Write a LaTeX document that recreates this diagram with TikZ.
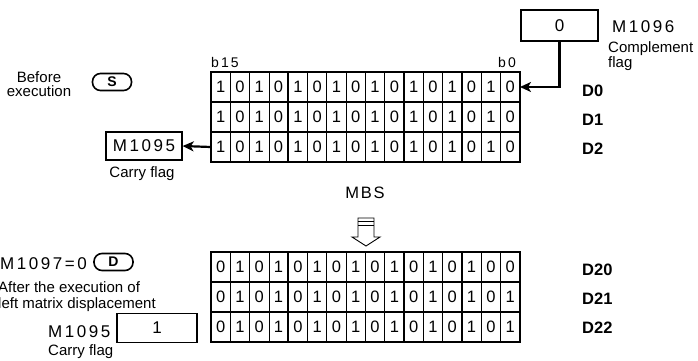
\documentclass[tikz,border=0pt]{standalone}
\usepackage{fontspec}
\setmainfont{Liberation Sans}
\newfontfamily\spc{Liberation Sans}[LetterSpace=15]
\newfontfamily\spcw{Liberation Sans}[LetterSpace=10]
\usetikzlibrary{arrows.meta}
\newcommand\mgrow[3]{%
  \foreach \d [count=\i from 0] in {#3} {\node[cell] (#1-\i) at ({220.65+19.3*\i},{#2+15}) {\d};}}
\newcommand\mglines[1]{%
  \foreach \k in {1,...,15} \draw[line width=0.8pt] ({211+19.3*\k},#1) -- ++(0,90);
  \foreach \k in {2,4,10,13} \draw[line width=1.5pt] ({211+19.3*\k},#1) -- ++(0,90);
  \draw[line width=1.7pt] (211,#1) rectangle (519.8,#1+90);}
\begin{document}
\begin{tikzpicture}[x=1pt,y=-1pt,
  txt/.style={inner sep=0pt, font=\fontsize{15}{15}\selectfont},
  reg/.style={inner sep=0pt, font=\spc\fontsize{17}{17}\selectfont},
  dlab/.style={inner sep=0pt, font=\bfseries\fontsize{16.5}{16.5}\selectfont},
  cell/.style={inner sep=0pt, minimum width=19.3pt, minimum height=30pt, font=\fontsize{16.5}{16.5}\selectfont},
  box/.style={draw, line width=1.3pt, inner sep=0pt, font=\spc\fontsize{17}{17}\selectfont},
  pill/.style={draw, line width=1.6pt, rounded corners=8pt, minimum width=39pt, minimum height=17pt, inner sep=0pt, font=\bfseries\fontsize{14}{14}\selectfont},
  arr/.style={line width=2.2pt, -{Stealth[length=11pt,width=10pt,inset=3pt]}},
  ]
\useasboundingbox (0,0) rectangle (698,361);

% ---------- before execution ----------
\node[txt, anchor=base] (bef1) at (39,82) {Before};
\node[txt, anchor=base] (bef2) at (39,96) {execution};
\node[pill] (spill) at (112,82) {S};
\node[inner sep=0pt, anchor=base west, font=\spc\fontsize{14}{14}\selectfont] (b15) at (211,67) {b15};
\node[inner sep=0pt, anchor=base east, font=\spc\fontsize{14}{14}\selectfont] (b0) at (516,67) {b0};

% top grid
\mgrow{t0}{72}{1,0,1,0,1,0,1,0,1,0,1,0,1,0,1,0}
\mgrow{t1}{102}{1,0,1,0,1,0,1,0,1,0,1,0,1,0,1,0}
\mgrow{t2}{132}{1,0,1,0,1,0,1,0,1,0,1,0,1,0,1,0}
\mglines{72}
\draw[line width=1.6pt] (211,102) -- (519.8,102);
\draw[line width=1.6pt] (211,132) -- (519.8,132);

\node[dlab, anchor=base west] (d0) at (582,96.5) {D0};
\node[dlab, anchor=base west] (d1) at (582,125) {D1};
\node[dlab, anchor=base west] (d2) at (582,154.5) {D2};

% M1096
\node[box, minimum width=77pt, minimum height=31pt] (m1096box) at (559.5,25.5) {0};
\node[reg, anchor=base west] (m1096) at (612,33) {M1096};
\node[txt, anchor=base west] (compl) at (608,52.5) {Complement};
\node[txt, anchor=base west] (flag) at (608,67) {flag};
\draw[arr] (m1096box.south) |- (t0-15.east);

% M1095 top
\node[box, minimum width=76pt, minimum height=28pt] (m1095box) at (144,146) {M1095};
\node[txt, anchor=base] (carry1) at (142,177.5) {Carry flag};
\draw[arr] (t2-0.west) -- (m1095box.east);

% MBS and hollow arrow
\node[inner sep=0pt, anchor=base, font=\spcw\fontsize{16.5}{16.5}\selectfont] (mbs) at (365,198) {MBS};
\draw[line width=0.9pt] (358,218) -- (358,237) -- (352,237) -- (366,246) -- (380,237) -- (374,237) -- (374,218) -- cycle;
\draw[line width=0.9pt] (358,221.5) -- (374,221.5);
\draw[line width=0.9pt] (358,225) -- (374,225);

% ---------- after execution ----------
\node[reg, anchor=base west] (m1097) at (0,269) {M1097=0};
\node[pill] (dpill) at (113.5,262) {D};
\node[txt, anchor=base west] (after1) at (-2,292) {After the execution of};
\node[txt, anchor=base west] (after2) at (-2,308) {left matrix displacement};
\node[reg, anchor=base west] (m1095b) at (48,337) {M1095};
\node[box, minimum width=80pt, minimum height=29pt] (onebox) at (157,328) {1};
\node[txt, anchor=base west] (carry2) at (48,355) {Carry flag};

% bottom grid
\mgrow{u0}{252}{0,1,0,1,0,1,0,1,0,1,0,1,0,1,0,0}
\mgrow{u1}{282}{0,1,0,1,0,1,0,1,0,1,0,1,0,1,0,1}
\mgrow{u2}{312}{0,1,0,1,0,1,0,1,0,1,0,1,0,1,0,1}
\mglines{252}
\draw[line width=2.4pt] (211,282) -- (519.8,282);
\draw[line width=1.2pt] (211,312) -- (519.8,312);

\node[dlab, anchor=base west] (d20) at (582,275) {D20};
\node[dlab, anchor=base west] (d21) at (582,304) {D21};
\node[dlab, anchor=base west] (d22) at (582,333) {D22};
\end{tikzpicture}
\end{document}
